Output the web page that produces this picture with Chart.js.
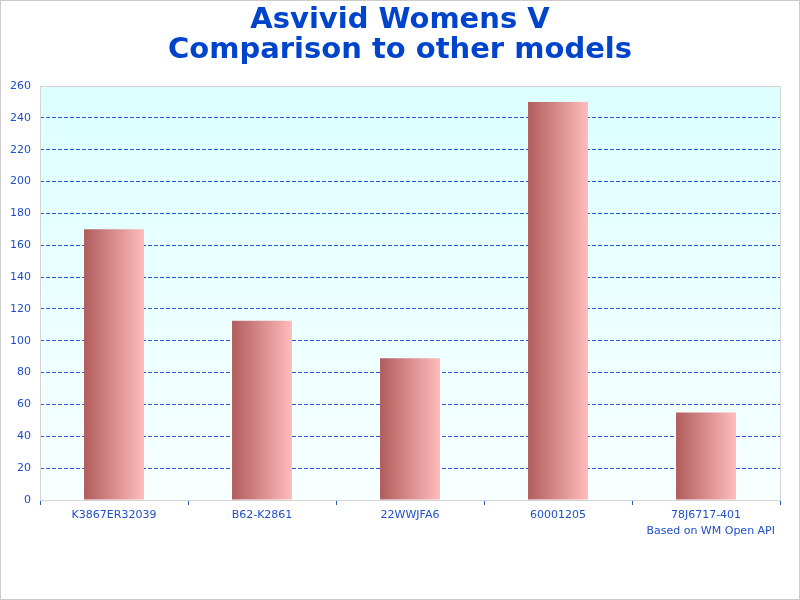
<!DOCTYPE html>
<html>
<head>
<meta charset="utf-8">
<script src="https://cdn.jsdelivr.net/npm/chart.js@4"></script>
<style>
  html, body { margin: 0; padding: 0; background: #ffffff; }
  #wrap { width: 800px; height: 600px; position: relative; }
</style>
</head>
<body>
<div id="wrap"><canvas id="modelChart"></canvas></div>
<script>
// Chart data
const titleLines = ['Asvivid Womens V', 'Comparison to other models'];
const modelNames = ['K3867ER32039', 'B62-K2861', '22WWJFA6', '60001205', '78J6717-401'];
const modelValues = [170, 112.5, 89, 250, 55];
const yTicksMin = 0;
const yTicksMax = 260;
const yTicksStep = 20;
const footnoteText = 'Based on WM Open API';

const titleBlue = '#0044cc';
const labelBlue = '#1f4fc8';
const gridBlue = '#2a5ad6';

// Plot background, plot frame, outer frame and footnote
const framePlugin = {
    id: 'frame',
    beforeDraw(chart) {
        const { ctx, chartArea: a } = chart;
        const bg = ctx.createLinearGradient(0, a.top, 0, a.bottom);
        bg.addColorStop(0, '#dcffff');
        bg.addColorStop(1, '#f8ffff');
        ctx.save();
        ctx.fillStyle = bg;
        ctx.fillRect(a.left, a.top, a.right - a.left, a.bottom - a.top);
        ctx.restore();
    },
    afterDraw(chart) {
        const { ctx, chartArea: a } = chart;
        ctx.save();
        ctx.strokeStyle = '#d4d4d4';
        ctx.lineWidth = 1;
        ctx.strokeRect(a.left + 0.5, a.top + 0.5, a.right - a.left, a.bottom - a.top);
        ctx.strokeStyle = '#cccccc';
        ctx.strokeRect(0.5, 0.5, chart.width - 1, chart.height - 1);
        // footnote under the last label
        ctx.fillStyle = labelBlue;
        ctx.font = '11px "DejaVu Sans"';
        ctx.textAlign = 'right';
        ctx.textBaseline = 'middle';
        ctx.fillText(footnoteText, 775, 531);
        ctx.restore();
    }
};

function barGradient(context) {
    const chart = context.chart;
    if (!chart.chartArea) return '#d88888';
    const x = chart.scales.x.getPixelForValue(context.dataIndex);
    const g = chart.ctx.createLinearGradient(x - 30, 0, x + 30, 0);
    g.addColorStop(0, '#b25c5c');
    g.addColorStop(1, '#ffbcbc');
    return g;
}

const ctx = document.getElementById('modelChart').getContext('2d');
const modelChart = new Chart(ctx, {
    type: 'bar',
    data: {
        labels: modelNames,
        datasets: [{
            data: modelValues,
            backgroundColor: barGradient,
            borderWidth: 0,
            barPercentage: 0.81,
            categoryPercentage: 0.5
        }]
    },
    options: {
        responsive: true,
        maintainAspectRatio: false,
        animation: false,
        layout: {
            padding: 0
        },
        scales: {
            x: {
                afterFit(scale) { scale.height = 100; },
                border: { display: false },
                grid: {
                    offset: true,
                    drawOnChartArea: false,
                    drawTicks: true,
                    tickLength: 5,
                    color: '#1e5fd0'
                },
                ticks: {
                    color: labelBlue,
                    padding: 4,
                    maxRotation: 0,
                    font: { family: 'DejaVu Sans', size: 11 }
                }
            },
            y: {
                min: yTicksMin,
                max: yTicksMax,
                afterFit(scale) { scale.width = 40; },
                // dash of the horizontal grid lines
                border: { display: false, dash: [4, 2] },
                grid: {
                    drawTicks: false,
                    color: c => (c.tick && (c.tick.value === yTicksMin || c.tick.value === yTicksMax)) ? 'rgba(0,0,0,0)' : gridBlue
                },
                ticks: {
                    stepSize: yTicksStep,
                    color: labelBlue,
                    padding: 9,
                    font: { family: 'DejaVu Sans', size: 11 }
                }
            },
            // empty strip on the right so the title stays centred on the page
            spacer: {
                position: 'right',
                afterFit(scale) { scale.width = 20; },
                border: { display: false },
                grid: { display: false },
                ticks: { display: false }
            }
        },
        plugins: {
            legend: { display: false },
            tooltip: { enabled: false },
            title: {
                display: true,
                text: titleLines,
                color: titleBlue,
                font: { family: 'DejaVu Sans', size: 29, weight: 'bold', lineHeight: 30 / 29 },
                padding: { top: 5, bottom: 21 }
            }
        }
    },
    plugins: [framePlugin]
});
</script>
</body>
</html>
